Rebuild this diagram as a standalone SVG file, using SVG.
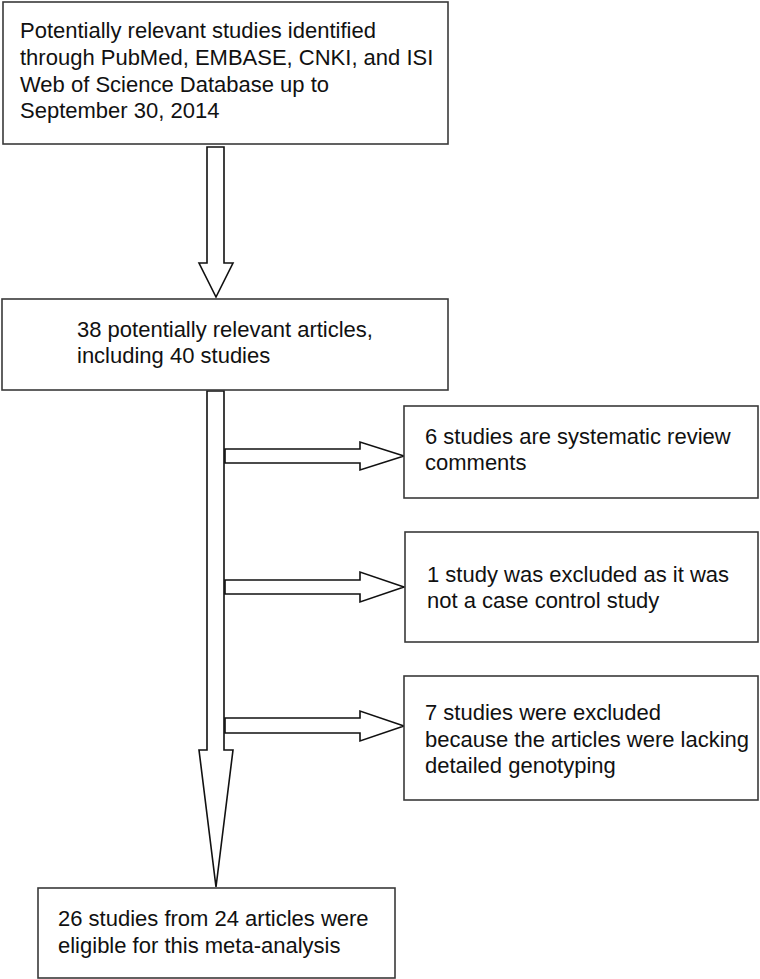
<svg xmlns="http://www.w3.org/2000/svg" width="760" height="979" viewBox="0 0 760 979">
<style>
.box{fill:#fff;stroke:#3a3a3a;stroke-width:1.6}
.arr{fill:#fff;stroke:#111;stroke-width:1.6;stroke-linejoin:miter}
text{font-family:"Liberation Sans",Arial,sans-serif;font-size:22px;fill:#111}
</style>
<rect width="760" height="979" fill="#fff"/>
<g id="connectors">
<polygon class="arr" points="207,147 224,147 224,263 233,263 216,297 199,263 207,263"/>
<polygon class="arr" points="207,391 224,391 224,750 233,750 216,887 199,750 207,750"/>
<polygon class="arr" points="225,449 360,449 360,442 404,456 360,470 360,463 225,463"/>
<polygon class="arr" points="225,580 360,580 360,572 404,587 360,602 360,594 225,594"/>
<polygon class="arr" points="225,718 360,718 360,711 404,726 360,741 360,733 225,733"/>
</g>
<g id="n1">
<rect class="box" x="3" y="2" width="445" height="142"/>
<text x="20" y="38">Potentially relevant studies identified</text>
<text x="20" y="65">through PubMed, EMBASE, CNKI, and ISI</text>
<text x="20" y="92">Web of Science Database up to</text>
<text x="20" y="118">September 30, 2014</text>
</g>
<g id="n2">
<rect class="box" x="2" y="299" width="446" height="91"/>
<text x="77" y="337">38 potentially relevant articles,</text>
<text x="77" y="363">including 40 studies</text>
</g>
<g id="n3">
<rect class="box" x="404" y="406" width="354" height="92"/>
<text x="425" y="444">6 studies are systematic review</text>
<text x="425" y="470">comments</text>
</g>
<g id="n4">
<rect class="box" x="405" y="532" width="353" height="110"/>
<text x="427" y="582">1 study was excluded as it was</text>
<text x="427" y="608">not a case control study</text>
</g>
<g id="n5">
<rect class="box" x="404" y="676" width="354" height="124"/>
<text x="425" y="720">7 studies were excluded</text>
<text x="425" y="747">because the articles were lacking</text>
<text x="425" y="773">detailed genotyping</text>
</g>
<g id="n6">
<rect class="box" x="38" y="888" width="357" height="90"/>
<text x="58" y="926">26 studies from 24 articles were</text>
<text x="58" y="953">eligible for this meta-analysis</text>
</g>
</svg>
